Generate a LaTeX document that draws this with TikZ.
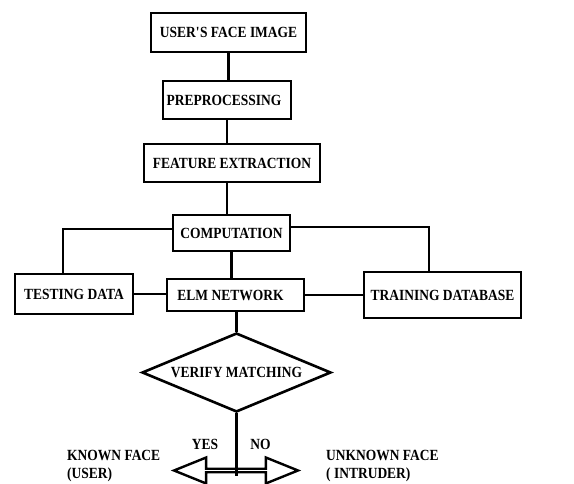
\documentclass[tikz,border=0pt]{standalone}
\usepackage{fontspec}
\setmainfont{Liberation Serif}[FakeStretch=0.87]
\usetikzlibrary{shapes.geometric,shapes.arrows,positioning,calc}

\begin{document}
\begin{tikzpicture}[
    x=1pt, y=-1pt,
    font=\fontsize{15.5}{18}\selectfont\bfseries,
    box/.style={rectangle, draw, line width=2.8pt, inner sep=0pt, align=center},
    decide/.style={diamond, draw, line width=2.6pt, inner sep=0pt, aspect=2.4},
    link/.style={line width=2.8pt},
    label/.style={inner sep=0pt}
]
    \useasboundingbox (0,0) rectangle (574,484);

    % Main pipeline
    \node[box, minimum width=155pt, minimum height=39pt] (face) at (228.5,32.5) {USER\textquotesingle S FACE IMAGE};
    \node[box, minimum width=128pt, minimum height=38pt] (prep) at (227,100) {PREPROCESSING\hspace{6pt}};
    \node[box, minimum width=176pt, minimum height=38pt] (feat) at (232,163) {FEATURE EXTRACTION};
    \node[box, minimum width=117pt, minimum height=36pt] (comp) at (231.5,233) {COMPUTATION};

    % Data and network
    \node[box, minimum width=118pt, minimum height=40pt] (test) at (74,294) {TESTING DATA};
    \node[box, minimum width=137pt, minimum height=32pt] (elm) at (235.5,295) {ELM NETWORK\hspace{10pt}};
    \node[box, minimum width=157pt, minimum height=46pt] (train) at (442.5,295) {TRAINING DATABASE};

    % Decision
    \node[decide, minimum width=189pt, minimum height=79pt] (verify) at (236.5,372.5) {VERIFY MATCHING};
    \node[double arrow, draw, fill=white, line width=2.4pt, inner sep=0pt,
          minimum height=124pt, minimum width=26pt,
          double arrow head extend=7.5pt, double arrow tip angle=44] (result) at (236,470.5) {};
    \coordinate (split) at (236.5,476);

    % Connectors
    \draw[link] (face.south) -- (face.south |- prep.north);
    \draw[link] (prep.south) -- (prep.south |- feat.north);
    \draw[link] (feat.south -| prep.south) -- (prep.south |- comp.north);
    \draw[link] ([yshift=4pt]comp.west) -| ([xshift=-11pt]test.north);
    \draw[link] ([yshift=6pt]comp.east) -| ([xshift=-13.5pt]train.north);
    \draw[link] (comp.south) -- (comp.south |- elm.north);
    \draw[link] (test.east) -- (elm.west |- test.east);
    \draw[link] (elm.east) -- (train.west);
    \draw[link] (verify.north |- elm.south) -- (verify.north);
    \draw[link] (verify.south) -- (split);

    % Outcomes
    \node[label] (yes) at (205,444) {YES};
    \node[label] (no) at (260.5,444) {NO};
    \node[label, anchor=north west, align=left] (known) at (67,450) {KNOWN FACE\\(USER)};
    \node[label, anchor=north west, align=left] (unknown) at (326,450) {UNKNOWN FACE\\( INTRUDER)};
\end{tikzpicture}
\end{document}
